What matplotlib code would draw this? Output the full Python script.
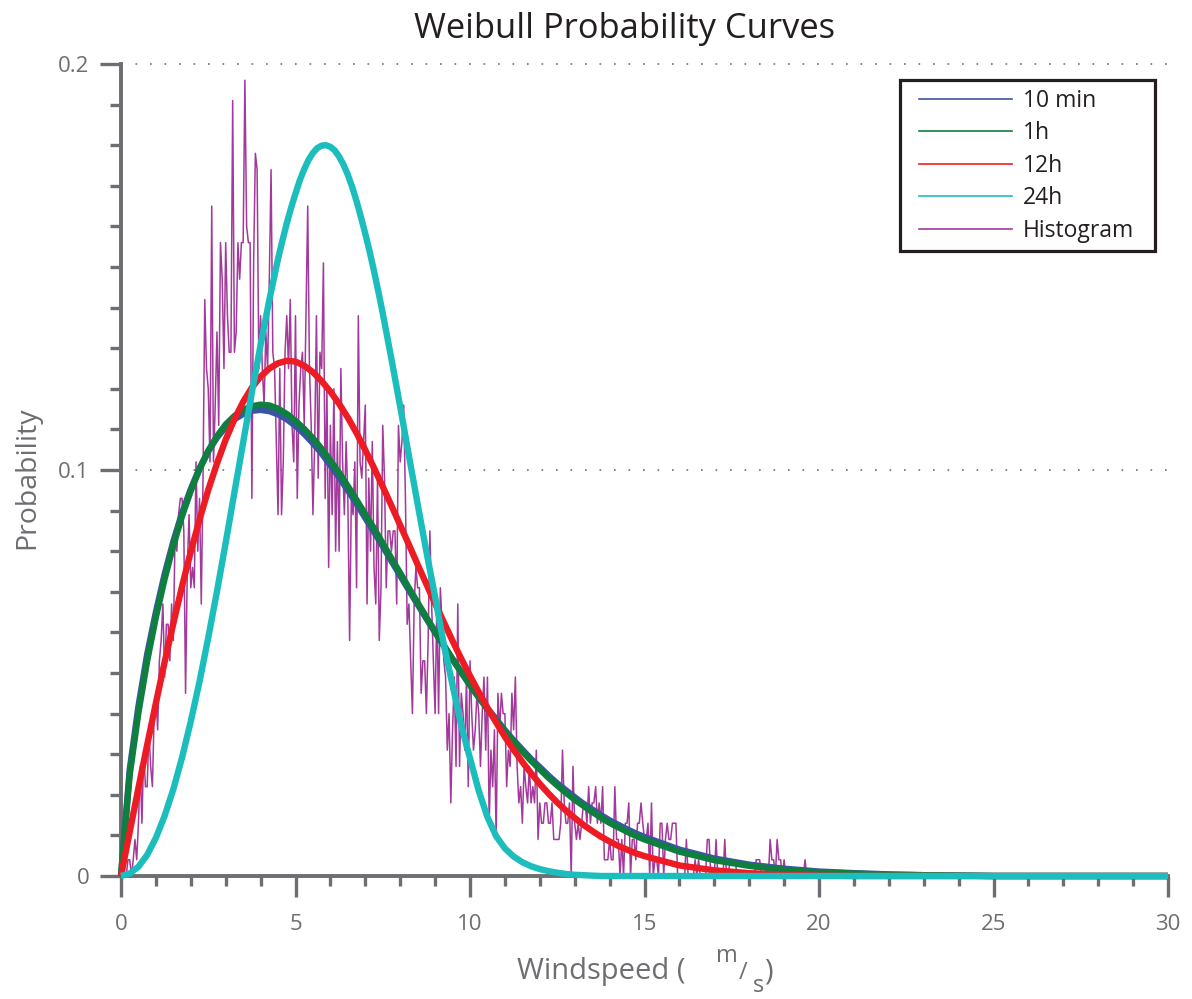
import numpy as np
import matplotlib.pyplot as plt
from matplotlib.lines import Line2D
from matplotlib.patches import Rectangle

plt.rcParams['font.family'] = ['Open Sans', 'DejaVu Sans']

curve_x = np.concatenate([np.arange(0, 15.01, 0.25), np.arange(16, 31, 1)])
# the 24h curve is read more finely around its peak
cyan_x = np.sort(np.concatenate([curve_x, np.arange(4.625, 7.4, 0.25)]))

# 10 min fit
blue_10min = [
    0, 0.0262, 0.0418, 0.0546, 0.0650, 0.0743, 0.0824, 0.0894,
    0.0953, 0.1004, 0.1046, 0.1080, 0.1106, 0.1125, 0.1138, 0.1146,
    0.1148, 0.1145, 0.1137, 0.1125, 0.1109, 0.1089, 0.1066, 0.1041,
    0.1012, 0.0982, 0.0950, 0.0917, 0.0882, 0.0848, 0.0812, 0.0776,
    0.0740, 0.0704, 0.0669, 0.0634, 0.0600, 0.0567, 0.0534, 0.0502,
    0.0471, 0.0441, 0.0413, 0.0386, 0.0359, 0.0334, 0.0311, 0.0288,
    0.0268, 0.0247, 0.0228, 0.0211, 0.0194, 0.0178, 0.0164, 0.0150,
    0.0137, 0.0126, 0.0115, 0.0105, 0.0096,
    0.0065, 0.0043, 0.0028, 0.0018, 0.0011, 0.0007, 0.0004, 0.0002,
    0.0001, 0, 0, 0, 0, 0, 0]

# 1h fit
green_1h = [
    0, 0.0250, 0.0403, 0.0530, 0.0638, 0.0732, 0.0815, 0.0887,
    0.0949, 0.1002, 0.1047, 0.1083, 0.1112, 0.1133, 0.1148, 0.1157,
    0.1161, 0.1159, 0.1151, 0.1138, 0.1121, 0.1101, 0.1078, 0.1052,
    0.1023, 0.0993, 0.0960, 0.0926, 0.0891, 0.0856, 0.0819, 0.0782,
    0.0746, 0.0709, 0.0673, 0.0637, 0.0602, 0.0568, 0.0534, 0.0502,
    0.0470, 0.0440, 0.0411, 0.0383, 0.0356, 0.0331, 0.0307, 0.0284,
    0.0263, 0.0242, 0.0223, 0.0205, 0.0188, 0.0173, 0.0158, 0.0144,
    0.0131, 0.0120, 0.0109, 0.0099, 0.0090,
    0.0060, 0.0039, 0.0025, 0.0015, 0.0009, 0.0006, 0.0003, 0.0002,
    0.0001, 0, 0, 0, 0, 0, 0]

# 12h fit
red_12h = [
    0, 0.0109, 0.0217, 0.0323, 0.0426, 0.0527, 0.0622, 0.0714,
    0.0799, 0.0878, 0.0951, 0.1016, 0.1075, 0.1125, 0.1168, 0.1203,
    0.1230, 0.1250, 0.1263, 0.1269, 0.1267, 0.1257, 0.1241, 0.1219,
    0.1193, 0.1163, 0.1129, 0.1091, 0.1049, 0.1005, 0.0959, 0.0912,
    0.0864, 0.0816, 0.0767, 0.0719, 0.0671, 0.0625, 0.0579, 0.0535,
    0.0493, 0.0453, 0.0414, 0.0378, 0.0343, 0.0311, 0.0281, 0.0253,
    0.0227, 0.0203, 0.0181, 0.0161, 0.0143, 0.0126, 0.0111, 0.0097,
    0.0085, 0.0074, 0.0065, 0.0056, 0.0049,
    0.0026, 0.0014, 0.0007, 0.0003, 0.0001, 0, 0, 0,
    0, 0, 0, 0, 0, 0, 0]

# 24h fit (on cyan_x)
cyan_24h = [
    0, 0.0006, 0.0023, 0.0052, 0.0094, 0.0148, 0.0214, 0.0292,
    0.0381, 0.0479, 0.0587, 0.0701, 0.0821, 0.0945, 0.1068, 0.1191,
    0.1308, 0.1419,
    0.1520, 0.1565, 0.1608, 0.1646, 0.1681, 0.1714, 0.1741, 0.1764,
    0.1781, 0.1793, 0.1799, 0.1800, 0.1796, 0.1787, 0.1772, 0.1752,
    0.1727, 0.1697, 0.1662, 0.1623, 0.1582, 0.1538, 0.1490, 0.1439,
    0.1386,
    0.1273, 0.1156, 0.1035, 0.0916, 0.0799, 0.0688, 0.0570, 0.0470,
    0.0370, 0.0290, 0.0210, 0.0145, 0.0098, 0.0068, 0.0048, 0.0034,
    0.0024, 0.0017, 0.0012, 0.0008, 0.0005, 0.0003, 0.0002, 0.0001,
    0, 0, 0, 0, 0, 0,
    0, 0, 0, 0, 0, 0, 0, 0,
    0, 0, 0, 0, 0, 0, 0]

# measured histogram, 0.05 m/s bins, one row per m/s
hist_x = np.arange(0, 20, 0.05)
hist_y = [
    0, 0, 0, 0, .004, .004, 0, .004, .009, .004, .013, .027, .013, .031, .022, .022, .036, .027, .022, .040,
    .045, .036, .053, .058, .067, .049, .062, .062, .053, .067, .058, .085, .080, .089, .093, .093, .085, .045, .076, .089,
    .071, .076, .071, .102, .080, .093, .067, .098, .142, .125, .120, .102, .165, .102, .116, .134, .111, .156, .147, .125,
    .156, .138, .129, .129, .191, .129, .134, .156, .147, .156, .156, .196, .160, .156, .156, .093, .151, .178, .174, .125,
    .138, .125, .116, .134, .125, .147, .174, .129, .125, .107, .089, .125, .089, .102, .129, .138, .125, .142, .111, .102,
    .138, .093, .116, .125, .129, .111, .138, .165, .125, .111, .089, .107, .138, .098, .129, .125, .151, .093, .120, .076,
    .111, .089, .120, .080, .107, .080, .125, .102, .089, .107, .093, .058, .093, .089, .102, .071, .138, .102, .098, .107,
    .116, .067, .098, .080, .107, .076, .067, .098, .058, .071, .111, .098, .071, .085, .085, .080, .085, .085, .067, .111,
    .102, .107, .116, .093, .062, .067, .053, .040, .067, .076, .071, .071, .045, .053, .053, .040, .058, .085, .067, .053,
    .040, .067, .040, .071, .062, .053, .049, .031, .040, .018, .036, .049, .027, .067, .027, .045, .040, .031, .049, .022,
    .053, .040, .031, .036, .045, .040, .027, .040, .049, .031, .049, .013, .031, .022, .036, .009, .045, .036, .045, .040,
    .040, .022, .031, .027, .045, .036, .049, .027, .018, .022, .013, .027, .022, .018, .027, .018, .022, .018, .031, .009,
    .018, .013, .013, .018, .018, .013, .013, .018, .009, .009, .009, .009, .013, .031, .018, .013, .013, .018, 0, .027,
    .013, .009, .013, .009, .013, .018, .018, .013, .022, .013, .018, .018, .022, .013, .018, .013, .022, .004, .004, .004,
    .009, .004, .004, .022, .009, .009, 0, .009, 0, .013, .013, .018, 0, .009, .009, .004, .013, .013, .018, .013,
    .009, .009, .013, 0, .018, 0, .004, .004, 0, .013, .013, 0, .009, .013, .009, .009, .013, .013, .013, 0,
    0, 0, 0, 0, .009, 0, 0, 0, 0, .004, 0, .004, 0, 0, 0, 0, .009, .009, 0, 0,
    0, .009, 0, 0, 0, 0, .009, 0, 0, .004, .004, .004, .004, 0, 0, 0, 0, 0, 0, 0,
    0, 0, 0, 0, .004, .004, .004, 0, 0, 0, 0, 0, .009, .004, .004, 0, .009, .004, .004, 0,
    .004, 0, 0, 0, 0, 0, 0, 0, 0, 0, 0, 0, .004, 0, 0, 0, 0, 0, 0, 0,
]

labels = ['10 min', '1h', '12h', '24h', 'Histogram']
colors = ['#3b55a5', '#0f7f40', '#ed1c24', '#1cbdbd', '#a3399b']
gray = '#6d6e71'
dark = '#231f20'

W, H = 1192, 999
fig = plt.figure(figsize=(W / 100, H / 100), dpi=100)
ax = fig.add_axes([121 / W, 1 - 876 / H, 1047 / W, 812 / H])

# dotted guides at the major y ticks
for yv in [0.1, 0.2]:
    ax.axhline(yv, color=gray, lw=1.2, ls=(0, (1, 7.7)), clip_on=False, zorder=1)

ax.plot(hist_x, hist_y, color=colors[4], lw=1.1, zorder=2, clip_on=False)
series = [(curve_x, blue_10min), (curve_x, green_1h), (curve_x, red_12h), (cyan_x, cyan_24h)]
for (xs, ys), c in zip(series, colors[:4]):
    ax.plot(xs, ys, color=c, lw=4.6, zorder=3, clip_on=False,
            solid_capstyle='butt', solid_joinstyle='round')

ax.set_xlim(0, 30)
ax.set_ylim(0, 0.2)
ax.set_xticks(np.arange(0, 31, 5))
ax.set_xticks(np.arange(0, 31, 1), minor=True)
ax.set_yticks([0, 0.1, 0.2], ['0', '0.1', '0.2'])
ax.set_yticks(np.arange(0, 0.201, 0.01), minor=True)

for s in ['top', 'right']:
    ax.spines[s].set_visible(False)
for s in ['left', 'bottom']:
    ax.spines[s].set_color(gray)
    ax.spines[s].set_linewidth(2.8)

ax.tick_params(axis='both', which='both', direction='out', color=gray, width=2.4,
               labelcolor=gray, labelsize=16)
ax.tick_params(axis='x', which='major', length=15, pad=12.5)
ax.tick_params(axis='x', which='minor', length=7.2)
ax.tick_params(axis='y', which='major', length=15.2, pad=7.5)
ax.tick_params(axis='y', which='minor', length=7.6)

# legend box drawn by hand so the padding matches
fig.add_artist(Rectangle((900 / W, 1 - 251 / H), 255 / W, 171 / H, transform=fig.transFigure,
                         facecolor='white', edgecolor=dark, lw=2.3, zorder=4))
handles = [Line2D([], [], color=c, lw=1.2) for c in colors]
leg = fig.legend(handles, labels, loc='upper left', bbox_to_anchor=(919 / W, 1 - 89 / H),
                 frameon=False, borderpad=0, borderaxespad=0, fontsize=16.5,
                 handlelength=4.06, handletextpad=0.48, labelspacing=0.37)
leg.set_zorder(5)
for t in leg.get_texts():
    t.set_color(dark)

fig.text(624 / W, 1 - 29 / H, 'Weibull Probability Curves', ha='center', va='center',
         fontsize=24.8, color=dark)
fig.text(27 / W, 1 - 478 / H, 'Probability', rotation=90, ha='center', va='center',
         fontsize=20.5, color=gray)

# x label with the stacked m/s unit
fig.text(517 / W, 1 - 979 / H, 'Windspeed (', ha='left', va='baseline', fontsize=21, color=gray)
fig.text(716 / W, 1 - 962 / H, 'm', ha='left', va='baseline', fontsize=17, color=gray)
fig.text(739 / W, 1 - 979 / H, '/', ha='left', va='baseline', fontsize=17, color=gray)
fig.text(753 / W, 1 - 992 / H, 's', ha='left', va='baseline', fontsize=17, color=gray)
fig.text(764 / W, 1 - 979 / H, ')', ha='left', va='baseline', fontsize=21, color=gray)

fig.savefig('out.png', dpi=100)
